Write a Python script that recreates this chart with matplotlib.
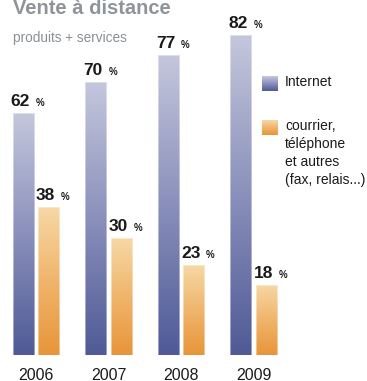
import numpy as np
import matplotlib
matplotlib.use('Agg')
import matplotlib.pyplot as plt
from matplotlib.colors import LinearSegmentedColormap

# Data
years = ['2006', '2007', '2008', '2009']
internet = [62, 70, 77, 82]
courrier = [38, 30, 23, 18]
series_names = ['Internet', 'courrier,\ntéléphone\net autres\n(fax, relais...)']

plt.rcParams['font.family'] = ['Liberation Sans', 'DejaVu Sans']

W, H = 367, 381
fig = plt.figure(figsize=(W / 100, H / 100), dpi=100)
ax = fig.add_axes([0, 26 / H, 1, 355 / H])

x = np.arange(len(years))
width = 0.29
off = 0.174

b1 = ax.bar(x - off, internet, width, facecolor='none', edgecolor='none')
b2 = ax.bar(x + off, courrier, width, facecolor='none', edgecolor='none')

cm_int = LinearSegmentedColormap.from_list('int', ['#4f5a96', '#8a90bb', '#c4c7dc'])
cm_cou = LinearSegmentedColormap.from_list('cou', ['#e8953a', '#f0b56c', '#f7d8a6'])
grad = np.linspace(0, 1, 256).reshape(-1, 1)

for bars, cmap in [(b1, cm_int), (b2, cm_cou)]:
    for b in bars:
        bx, bw, bh = b.get_x(), b.get_width(), b.get_height()
        im = ax.imshow(grad, cmap=cmap, extent=[bx, bx + bw, 0, bh],
                       aspect='auto', origin='lower', zorder=2)
        im.set_clip_path(b)
        ax.add_patch(plt.Rectangle((bx, 0), bw, bh, facecolor='none',
                                   edgecolor='#ffffff', lw=0.6, alpha=0.5, zorder=3))
        ax.annotate(f'{int(bh)}', xy=(bx, bh), xytext=(-2, 7), textcoords='offset pixels',
                    fontsize=12.5, fontweight='bold', color='#1a1a1a', ha='left', va='baseline')
        ax.annotate('%', xy=(bx, bh), xytext=(23, 7), textcoords='offset pixels',
                    fontsize=7, fontweight='bold', color='#1a1a1a', ha='left', va='baseline')

ax.set_xlim(-36 / 72.5, (W - 36) / 72.5)
ax.set_ylim(0, 355 / 3.9)
ax.set_xticks(x)
ax.set_xticklabels(years, fontsize=11.5, color='#1a1a1a')
ax.tick_params(axis='x', length=0, pad=9)
ax.set_yticks([])
for s in ax.spines.values():
    s.set_visible(False)

# Title and subtitle
fig.text(13 / W, 1 - 14 / H, 'Vente à distance', fontsize=14.5, fontweight='bold',
         color='#8e9499', ha='left', va='baseline')
fig.text(13 / W, 1 - 42 / H, 'produits + services', fontsize=9.8,
         color='#8a9095', ha='left', va='baseline')

# Legend
legend_y = [76, 120]
for (top, name, cmap) in zip(legend_y, series_names, [cm_int, cm_cou]):
    lax = fig.add_axes([262 / W, 1 - (top + 15) / H, 16 / W, 15 / H])
    lax.imshow(grad, cmap=cmap, aspect='auto', origin='lower')
    lax.axis('off')
    fig.text(285 / W, 1 - (top - 1) / H, name, fontsize=10, color='#1a1a1a',
             ha='left', va='top', linespacing=1.35)

fig.savefig('out.png', dpi=100)
